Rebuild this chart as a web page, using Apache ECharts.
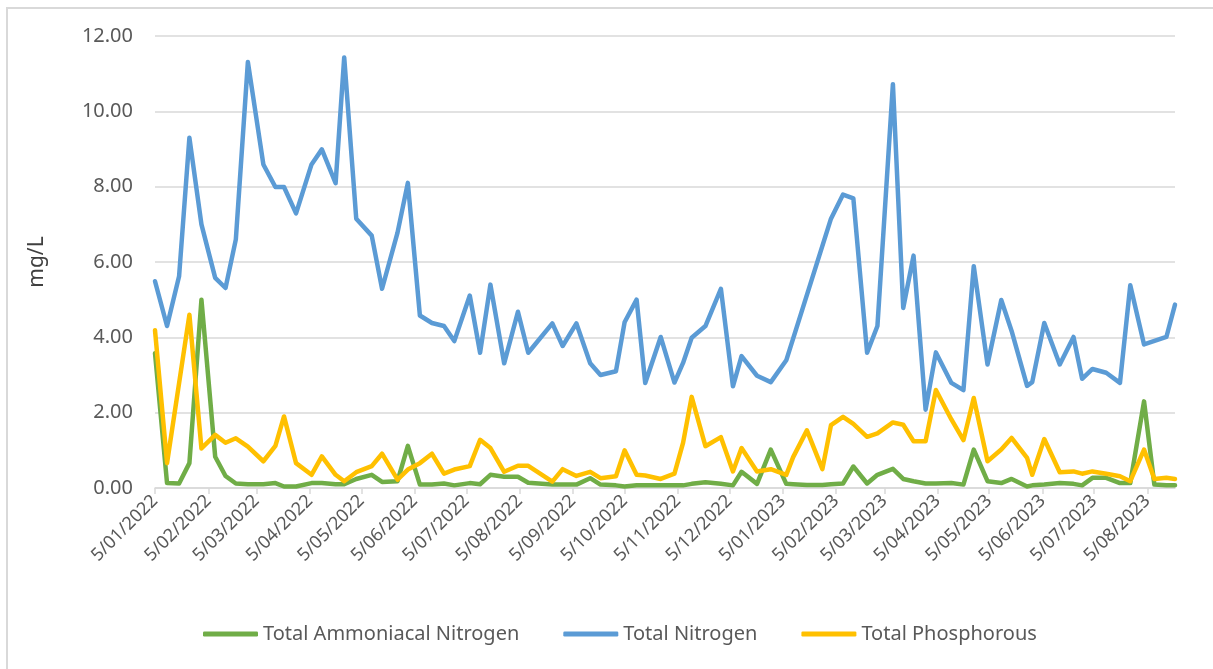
<!DOCTYPE html>
<html>
<head>
<meta charset="utf-8">
<title>Water quality</title>
<script src="https://cdn.jsdelivr.net/npm/echarts@6/dist/echarts.min.js"></script>
<style>
  html, body { margin: 0; padding: 0; background: #fff; }
  #chart { width: 1213px; height: 669px; }
</style>
</head>
<body>
<div id="chart"></div>
<script>
// sample dates
const sampleDates = [
  '2022-01-05', '2022-01-12', '2022-01-19', '2022-01-25', '2022-02-01', '2022-02-09', '2022-02-15', '2022-02-21',
  '2022-02-28', '2022-03-09', '2022-03-16', '2022-03-21', '2022-03-28', '2022-04-06', '2022-04-12', '2022-04-20',
  '2022-04-25', '2022-05-02', '2022-05-11', '2022-05-17', '2022-05-26', '2022-06-01', '2022-06-08', '2022-06-15',
  '2022-06-22', '2022-06-28', '2022-07-07', '2022-07-13', '2022-07-19', '2022-07-27', '2022-08-04', '2022-08-10',
  '2022-08-24', '2022-08-30', '2022-09-07', '2022-09-15', '2022-09-21', '2022-09-30', '2022-10-05', '2022-10-12',
  '2022-10-17', '2022-10-26', '2022-11-03', '2022-11-08', '2022-11-13', '2022-11-21', '2022-11-30', '2022-12-07',
  '2022-12-12', '2022-12-21', '2022-12-29', '2023-01-07', '2023-01-11', '2023-01-19', '2023-01-28', '2023-02-02',
  '2023-02-09', '2023-02-15', '2023-02-23', '2023-03-01', '2023-03-10', '2023-03-16', '2023-03-22', '2023-03-29',
  '2023-04-04', '2023-04-13', '2023-04-20', '2023-04-26', '2023-05-04', '2023-05-12', '2023-05-18', '2023-05-27',
  '2023-05-30', '2023-06-06', '2023-06-15', '2023-06-23', '2023-06-28', '2023-07-04', '2023-07-12', '2023-07-20',
  '2023-07-26', '2023-08-03', '2023-08-09', '2023-08-16', '2023-08-21'
]

const ammoniacalN = [
  3.58, 0.13, 0.12, 0.66, 5.00, 0.83, 0.32, 0.12,
  0.10, 0.10, 0.13, 0.04, 0.04, 0.13, 0.13, 0.10,
  0.10, 0.24, 0.35, 0.16, 0.18, 1.12, 0.09, 0.09,
  0.12, 0.07, 0.13, 0.10, 0.35, 0.30, 0.30, 0.14,
  0.09, 0.09, 0.09, 0.26, 0.09, 0.07, 0.04, 0.07,
  0.07, 0.07, 0.07, 0.07, 0.11, 0.15, 0.11, 0.07,
  0.43, 0.11, 1.02, 0.11, 0.10, 0.08, 0.08, 0.10,
  0.12, 0.57, 0.12, 0.35, 0.51, 0.24, 0.18, 0.12,
  0.12, 0.13, 0.09, 1.02, 0.18, 0.13, 0.24, 0.04,
  0.07, 0.09, 0.13, 0.11, 0.07, 0.27, 0.27, 0.13,
  0.13, 2.30, 0.09, 0.07, 0.07
]

const totalN = [
  5.49, 4.30, 5.62, 9.30, 7.00, 5.58, 5.31, 6.60,
  11.31, 8.59, 7.99, 7.99, 7.29, 8.59, 8.99, 8.09,
  11.43, 7.15, 6.70, 5.29, 6.78, 8.10, 4.58, 4.38,
  4.30, 3.90, 5.11, 3.59, 5.40, 3.31, 4.68, 3.59,
  4.37, 3.77, 4.37, 3.31, 3.00, 3.10, 4.40, 5.00,
  2.79, 4.01, 2.80, 3.32, 3.99, 4.30, 5.29, 2.70,
  3.50, 2.98, 2.81, 3.39, null, null, null, 7.15,
  7.79, 7.69, 3.59, 4.30, 10.72, 4.78, 6.17, 2.08,
  3.60, 2.79, 2.60, 5.89, 3.28, 4.99, 4.17, 2.71,
  2.81, 4.38, 3.28, 4.01, 2.90, 3.16, 3.06, 2.79,
  5.38, 3.81, null, 4.01, 4.87
]

const totalP = [
  4.19, 0.66, null, 4.60, 1.05, 1.41, 1.20, 1.32,
  1.10, 0.71, 1.12, 1.90, 0.66, 0.35, 0.84, 0.35,
  0.18, 0.42, 0.58, 0.91, 0.22, 0.49, 0.66, 0.91,
  0.38, 0.49, 0.58, 1.28, 1.06, 0.43, 0.59, 0.59,
  0.17, 0.50, 0.32, 0.43, 0.26, 0.31, 1.00, 0.35,
  0.33, 0.24, 0.38, 1.20, 2.42, 1.11, 1.35, 0.44,
  1.06, 0.44, 0.50, 0.35, 0.82, 1.53, 0.50, 1.67,
  1.89, 1.70, 1.36, 1.45, 1.74, 1.68, 1.24, 1.24,
  2.60, 1.82, 1.27, 2.39, 0.71, 1.02, 1.33, 0.80,
  0.35, 1.30, 0.42, 0.44, 0.38, 0.44, 0.38, 0.31,
  0.18, 1.02, 0.24, 0.27, 0.24
]

const tickLabels = [
  '5/01/2022', '5/02/2022', '5/03/2022', '5/04/2022', '5/05/2022', '5/06/2022', '5/07/2022',
  '5/08/2022', '5/09/2022', '5/10/2022', '5/11/2022', '5/12/2022', '5/01/2023', '5/02/2023',
  '5/03/2023', '5/04/2023', '5/05/2023', '5/06/2023', '5/07/2023', '5/08/2023'
]

const seriesNames = ['Total Ammoniacal Nitrogen', 'Total Nitrogen', 'Total Phosphorous']
const seriesColors = ['#70AD47', '#5B9BD5', '#FFC000']

// d/mm/yyyy -> timestamp
function parseDmy (s) {
  const p = s.split('/')
  return new Date(+p[2], +p[1] - 1, +p[0]).getTime()
}
function parseIso (s) {
  const p = s.split('-')
  return new Date(+p[0], +p[1] - 1, +p[2]).getTime()
}
function fmtDmy (t) {
  const d = new Date(t)
  const mm = ('0' + (d.getMonth() + 1)).slice(-2)
  return d.getDate() + '/' + mm + '/' + d.getFullYear()
}

const tickValues = tickLabels.map(parseDmy)
const pair = (vals) => sampleDates.map((d, i) => [parseIso(d), vals[i]])

const chart = echarts.init(document.getElementById('chart'))
const textColor = '#595959'
const font = 'Noto Sans'

chart.setOption({
  animation: false,
  textStyle: { fontFamily: font },
  graphic: [{
    type: 'rect',
    shape: { x: 7, y: 8, width: 1300, height: 800 },
    style: { fill: 'none', stroke: '#D9D9D9', lineWidth: 2 },
    silent: true
  }],
  grid: { left: 155, right: 38, top: 36, bottom: 181 },
  legend: {
    bottom: 20,
    left: 198,
    itemWidth: 55,
    itemHeight: 5,
    itemGap: 44,
    icon: 'roundRect',
    textStyle: { color: textColor, fontSize: 20, fontFamily: font },
    data: seriesNames
  },
  xAxis: {
    type: 'value',
    min: parseDmy('5/01/2022'),
    max: parseDmy('21/08/2023'),
    axisLine: { show: true, lineStyle: { color: '#D9D9D9', width: 1.5 } },
    axisTick: {
      show: true,
      customValues: tickValues,
      length: 6,
      lineStyle: { color: '#D9D9D9', width: 1.5 }
    },
    axisLabel: {
      customValues: tickValues,
      rotate: 45,
      margin: 10,
      color: textColor,
      fontSize: 18,
      fontFamily: font,
      formatter: (v) => fmtDmy(v)
    },
    splitLine: { show: false }
  },
  yAxis: {
    type: 'value',
    min: 0,
    max: 12,
    interval: 2,
    name: 'mg/L',
    nameLocation: 'middle',
    nameGap: 107,
    nameTextStyle: { color: '#404040', fontSize: 21, fontFamily: font },
    axisLine: { show: false },
    axisTick: { show: false },
    axisLabel: {
      color: textColor,
      fontSize: 20,
      fontFamily: font,
      margin: 22,
      formatter: (v) => v.toFixed(2)
    },
    splitLine: { lineStyle: { color: '#D9D9D9', width: 1.5 } }
  },
  series: [ammoniacalN, totalN, totalP].map((vals, i) => ({
    name: seriesNames[i],
    type: 'line',
    data: pair(vals),
    showSymbol: false,
    connectNulls: true,
    color: seriesColors[i],
    lineStyle: { width: 4.5, color: seriesColors[i], join: 'round', cap: 'round' }
  }))
})
</script>
</body>
</html>
